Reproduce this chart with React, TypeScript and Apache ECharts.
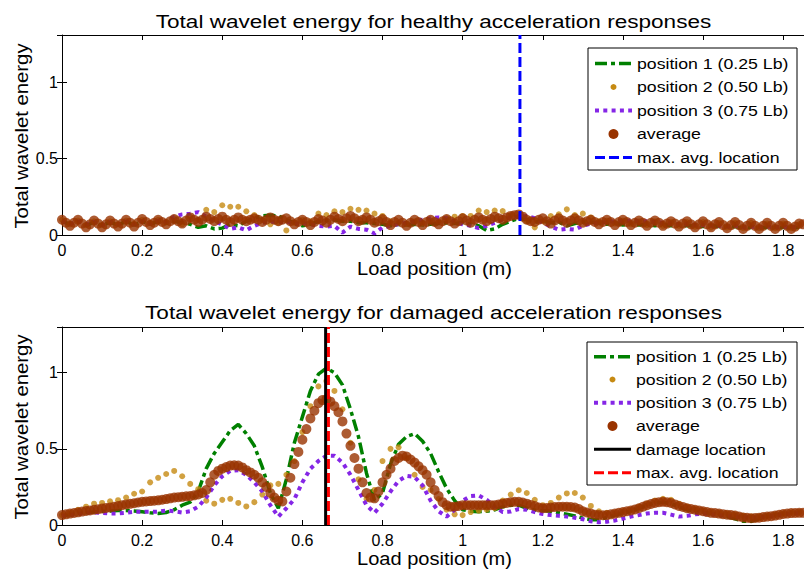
import { useEffect, useRef } from "react";
import * as echarts from "echarts";

// Load positions (m) for the three sensor positions
const xs = [
  0, 0.02, 0.04, 0.06, 0.08, 0.1, 0.12, 0.14, 0.16, 0.18,
  0.2, 0.22, 0.24, 0.26, 0.28, 0.3, 0.32, 0.34, 0.36, 0.38,
  0.4, 0.42, 0.44, 0.46, 0.48, 0.5, 0.52, 0.54, 0.56, 0.58,
  0.6, 0.62, 0.64, 0.66, 0.68, 0.7, 0.72, 0.74, 0.76, 0.78,
  0.8, 0.82, 0.84, 0.86, 0.88, 0.9, 0.92, 0.94, 0.96, 0.98,
  1.0, 1.02, 1.04, 1.06, 1.08, 1.1, 1.12, 1.14, 1.16, 1.18,
  1.2, 1.22, 1.24, 1.26, 1.28, 1.3, 1.32, 1.34, 1.36, 1.38,
  1.4, 1.42, 1.44, 1.46, 1.48, 1.5, 1.52, 1.54, 1.56, 1.58,
  1.6, 1.62, 1.64, 1.66, 1.68, 1.7, 1.72, 1.74, 1.76, 1.78,
  1.8, 1.82, 1.84,
];

// Load positions (m) for the average curves (finer sampling)
const xsAvg = [
  0, 0.01, 0.02, 0.03, 0.04, 0.05, 0.06, 0.07, 0.08, 0.09,
  0.1, 0.11, 0.12, 0.13, 0.14, 0.15, 0.16, 0.17, 0.18, 0.19,
  0.2, 0.21, 0.22, 0.23, 0.24, 0.25, 0.26, 0.27, 0.28, 0.29,
  0.3, 0.31, 0.32, 0.33, 0.34, 0.35, 0.36, 0.37, 0.38, 0.39,
  0.4, 0.41, 0.42, 0.43, 0.44, 0.45, 0.46, 0.47, 0.48, 0.49,
  0.5, 0.51, 0.52, 0.53, 0.54, 0.55, 0.56, 0.57, 0.58, 0.59,
  0.6, 0.61, 0.62, 0.63, 0.64, 0.65, 0.66, 0.67, 0.68, 0.69,
  0.7, 0.71, 0.72, 0.73, 0.74, 0.75, 0.76, 0.77, 0.78, 0.79,
  0.8, 0.81, 0.82, 0.83, 0.84, 0.85, 0.86, 0.87, 0.88, 0.89,
  0.9, 0.91, 0.92, 0.93, 0.94, 0.95, 0.96, 0.97, 0.98, 0.99,
  1.0, 1.01, 1.02, 1.03, 1.04, 1.05, 1.06, 1.07, 1.08, 1.09,
  1.1, 1.11, 1.12, 1.13, 1.14, 1.15, 1.16, 1.17, 1.18, 1.19,
  1.2, 1.21, 1.22, 1.23, 1.24, 1.25, 1.26, 1.27, 1.28, 1.29,
  1.3, 1.31, 1.32, 1.33, 1.34, 1.35, 1.36, 1.37, 1.38, 1.39,
  1.4, 1.41, 1.42, 1.43, 1.44, 1.45, 1.46, 1.47, 1.48, 1.49,
  1.5, 1.51, 1.52, 1.53, 1.54, 1.55, 1.56, 1.57, 1.58, 1.59,
  1.6, 1.61, 1.62, 1.63, 1.64, 1.65, 1.66, 1.67, 1.68, 1.69,
  1.7, 1.71, 1.72, 1.73, 1.74, 1.75, 1.76, 1.77, 1.78, 1.79,
  1.8, 1.81, 1.82, 1.83, 1.84, 1.85,
];

// Healthy responses
const healthyPos1 = [
  0.09, 0.07, 0.09, 0.06, 0.085, 0.06, 0.085, 0.065, 0.09, 0.065,
  0.09, 0.07, 0.09, 0.075, 0.09, 0.08, 0.07, 0.05, 0.06, 0.04,
  0.045, 0.07, 0.06, 0.09, 0.11, 0.125, 0.13, 0.125, 0.1, 0.08,
  0.06, 0.07, 0.09, 0.095, 0.1, 0.09, 0.09, 0.08, 0.08, 0.075,
  0.07, 0.06, 0.07, 0.065, 0.07, 0.065, 0.07, 0.075, 0.08, 0.075,
  0.08, 0.07, 0.06, 0.03, 0.04, 0.07, 0.09, 0.11, 0.1, 0.085,
  0.09, 0.08, 0.085, 0.06, 0.075, 0.085, 0.085, 0.08, 0.07, 0.08,
  0.065, 0.075, 0.065, 0.07, 0.06, 0.07, 0.06, 0.065, 0.06, 0.06,
  0.055, 0.06, 0.055, 0.05, 0.055, 0.045, 0.05, 0.045, 0.05, 0.045,
  0.05, 0.045, 0.05,
];
const healthyPos2 = [
  0.1, 0.07, 0.095, 0.065, 0.09, 0.065, 0.09, 0.07, 0.095, 0.075,
  0.1, 0.08, 0.1, 0.085, 0.11, 0.07, 0.12, 0.1, 0.165, 0.15,
  0.195, 0.185, 0.185, 0.155, 0.13, 0.1, 0.07, 0.08, 0.03, 0.08,
  0.1, 0.09, 0.14, 0.13, 0.155, 0.15, 0.172, 0.165, 0.16, 0.14,
  0.125, 0.09, 0.08, 0.075, 0.09, 0.08, 0.095, 0.09, 0.11, 0.12,
  0.125, 0.125, 0.16, 0.15, 0.16, 0.157, 0.13, 0.12, 0.09, 0.05,
  0.09, 0.124, 0.135, 0.168, 0.13, 0.14, 0.115, 0.09, 0.095, 0.075,
  0.095, 0.07, 0.09, 0.065, 0.09, 0.06, 0.085, 0.06, 0.085, 0.055,
  0.085, 0.05, 0.08, 0.05, 0.08, 0.045, 0.08, 0.045, 0.075, 0.045,
  0.075, 0.045, 0.07,
];
const healthyPos3 = [
  0.09, 0.07, 0.09, 0.07, 0.085, 0.065, 0.085, 0.07, 0.09, 0.07,
  0.09, 0.075, 0.095, 0.085, 0.12, 0.135, 0.14, 0.15, 0.12, 0.09,
  0.07, 0.04, 0.05, 0.03, 0.06, 0.08, 0.09, 0.08, 0.09, 0.07,
  0.08, 0.07, 0.06, 0.055, 0.06, 0.015, 0.055, 0.04, 0.035, 0.01,
  0.05, 0.06, 0.07, 0.08, 0.09, 0.1, 0.11, 0.115, 0.11, 0.09,
  0.07, 0.06, 0.045, 0.06, 0.08, 0.1, 0.115, 0.12, 0.125, 0.11,
  0.08, 0.055, 0.035, 0.04, 0.035, 0.06, 0.075, 0.08, 0.085, 0.09,
  0.09, 0.095, 0.09, 0.09, 0.085, 0.08, 0.075, 0.07, 0.07, 0.065,
  0.065, 0.06, 0.06, 0.055, 0.06, 0.05, 0.055, 0.05, 0.055, 0.05,
  0.055, 0.05, 0.055,
];
const healthyAvg = [
  0.1, 0.08, 0.06, 0.08, 0.1, 0.075, 0.05, 0.07, 0.095, 0.075,
  0.05, 0.07, 0.095, 0.075, 0.055, 0.075, 0.1, 0.08, 0.055, 0.08,
  0.105, 0.085, 0.065, 0.08, 0.1, 0.085, 0.07, 0.09, 0.105, 0.09,
  0.075, 0.095, 0.115, 0.1, 0.085, 0.1, 0.12, 0.105, 0.09, 0.105,
  0.12, 0.1, 0.085, 0.1, 0.115, 0.1, 0.09, 0.1, 0.11, 0.1,
  0.085, 0.1, 0.115, 0.1, 0.09, 0.1, 0.11, 0.09, 0.07, 0.085,
  0.1, 0.085, 0.065, 0.085, 0.105, 0.095, 0.08, 0.1, 0.12, 0.105,
  0.09, 0.11, 0.125, 0.11, 0.09, 0.1, 0.115, 0.1, 0.08, 0.09,
  0.105, 0.085, 0.065, 0.085, 0.1, 0.08, 0.06, 0.08, 0.1, 0.085,
  0.065, 0.085, 0.1, 0.085, 0.07, 0.09, 0.105, 0.09, 0.075, 0.09,
  0.11, 0.095, 0.08, 0.1, 0.115, 0.1, 0.09, 0.105, 0.12, 0.11,
  0.1, 0.115, 0.125, 0.13, 0.135, 0.12, 0.1, 0.09, 0.085, 0.1,
  0.11, 0.09, 0.075, 0.095, 0.11, 0.095, 0.08, 0.095, 0.11, 0.095,
  0.08, 0.09, 0.1, 0.085, 0.07, 0.085, 0.1, 0.085, 0.065, 0.085,
  0.1, 0.085, 0.065, 0.08, 0.095, 0.08, 0.06, 0.08, 0.095, 0.08,
  0.06, 0.075, 0.09, 0.075, 0.055, 0.075, 0.09, 0.07, 0.05, 0.07,
  0.09, 0.07, 0.05, 0.07, 0.085, 0.065, 0.045, 0.065, 0.085, 0.065,
  0.04, 0.06, 0.08, 0.06, 0.04, 0.06, 0.08, 0.06, 0.04, 0.06,
  0.08, 0.06, 0.04, 0.055, 0.075, 0.07,
];

// Damaged responses
const damagedPos1 = [
  0.06, 0.068, 0.075, 0.08, 0.085, 0.09, 0.092, 0.095, 0.095, 0.092,
  0.087, 0.08, 0.076, 0.082, 0.1, 0.13, 0.15, 0.22, 0.37, 0.47,
  0.545, 0.62, 0.66, 0.6, 0.52, 0.38, 0.21, 0.11, 0.3, 0.54,
  0.71, 0.88, 0.99, 1.03, 1.0, 0.92, 0.76, 0.58, 0.34, 0.16,
  0.21, 0.4, 0.53, 0.58, 0.6, 0.55, 0.47, 0.35, 0.24, 0.16,
  0.1, 0.09, 0.087, 0.09, 0.1, 0.12, 0.13, 0.13, 0.11, 0.098,
  0.095, 0.09, 0.08, 0.07, 0.06, 0.045, 0.035, 0.035, 0.05, 0.065,
  0.08, 0.09, 0.11, 0.13, 0.145, 0.15, 0.14, 0.12, 0.1, 0.09,
  0.085, 0.075, 0.065, 0.055, 0.04, 0.025, 0.025, 0.04, 0.055, 0.065,
  0.075, 0.08, 0.08,
];
const damagedPos2 = [
  0.065, 0.08, 0.1, 0.12, 0.14, 0.145, 0.155, 0.163, 0.18, 0.205,
  0.22, 0.28, 0.31, 0.335, 0.355, 0.32, 0.27, 0.235, 0.16, 0.14,
  0.165, 0.172, 0.145, 0.122, 0.15, 0.2, 0.26, 0.27, 0.33, 0.42,
  0.61, 0.78, 0.91, 0.945, 0.88, 0.76, 0.54, 0.3, 0.17, 0.23,
  0.42, 0.5, 0.51, 0.44, 0.33, 0.25, 0.23, 0.17, 0.1, 0.07,
  0.065, 0.085, 0.095, 0.1, 0.11, 0.16, 0.2, 0.228, 0.21, 0.165,
  0.13, 0.145, 0.18, 0.207, 0.21, 0.18, 0.125, 0.09, 0.08, 0.08,
  0.09, 0.1, 0.12, 0.14, 0.16, 0.172, 0.165, 0.14, 0.12, 0.105,
  0.095, 0.085, 0.08, 0.075, 0.068, 0.06, 0.055, 0.055, 0.06, 0.068,
  0.076, 0.082, 0.085,
];
const damagedPos3 = [
  0.06, 0.065, 0.072, 0.082, 0.082, 0.08, 0.076, 0.076, 0.08, 0.087,
  0.087, 0.087, 0.087, 0.095, 0.09, 0.082, 0.09, 0.12, 0.18, 0.26,
  0.32, 0.355, 0.36, 0.33, 0.28, 0.22, 0.13, 0.055, 0.11, 0.17,
  0.28, 0.37, 0.42, 0.455, 0.455, 0.41, 0.33, 0.23, 0.13, 0.08,
  0.14, 0.22, 0.29, 0.322, 0.315, 0.26, 0.16, 0.09, 0.055, 0.1,
  0.16, 0.19, 0.195, 0.165, 0.12, 0.085, 0.088, 0.105, 0.1, 0.085,
  0.072, 0.065, 0.06, 0.055, 0.048, 0.038, 0.025, 0.018, 0.022, 0.03,
  0.042, 0.055, 0.065, 0.075, 0.08, 0.08, 0.068, 0.055, 0.06, 0.07,
  0.075, 0.07, 0.065, 0.06, 0.055, 0.05, 0.048, 0.05, 0.055, 0.06,
  0.07, 0.075, 0.078,
];
const damagedAvg = [
  0.065, 0.07, 0.075, 0.079, 0.083, 0.088, 0.092, 0.096, 0.1, 0.104,
  0.108, 0.112, 0.115, 0.12, 0.125, 0.13, 0.135, 0.139, 0.143, 0.148,
  0.152, 0.155, 0.157, 0.16, 0.162, 0.166, 0.17, 0.175, 0.18, 0.183,
  0.185, 0.188, 0.19, 0.195, 0.2, 0.21, 0.23, 0.28, 0.33, 0.355,
  0.37, 0.38, 0.39, 0.392, 0.39, 0.378, 0.36, 0.345, 0.33, 0.31,
  0.28, 0.25, 0.21, 0.18, 0.16, 0.155, 0.22, 0.31, 0.4, 0.48,
  0.56, 0.63, 0.7, 0.75, 0.8, 0.82, 0.825, 0.81, 0.78, 0.74,
  0.68, 0.6, 0.52, 0.44, 0.37, 0.28, 0.21, 0.18, 0.175, 0.22,
  0.28, 0.33, 0.37, 0.42, 0.44, 0.455, 0.45, 0.43, 0.41, 0.385,
  0.36, 0.33, 0.28, 0.23, 0.19, 0.15, 0.13, 0.12, 0.12, 0.125,
  0.13, 0.13, 0.13, 0.13, 0.13, 0.13, 0.13, 0.13, 0.13, 0.135,
  0.14, 0.145, 0.15, 0.152, 0.152, 0.148, 0.14, 0.132, 0.125, 0.115,
  0.11, 0.112, 0.115, 0.118, 0.12, 0.12, 0.12, 0.118, 0.115, 0.105,
  0.09, 0.082, 0.075, 0.068, 0.065, 0.064, 0.065, 0.07, 0.075, 0.08,
  0.085, 0.09, 0.095, 0.102, 0.11, 0.12, 0.13, 0.138, 0.145, 0.15,
  0.152, 0.15, 0.145, 0.135, 0.125, 0.118, 0.11, 0.105, 0.1, 0.095,
  0.09, 0.085, 0.08, 0.078, 0.075, 0.071, 0.068, 0.065, 0.062, 0.056,
  0.05, 0.047, 0.045, 0.046, 0.048, 0.052, 0.055, 0.058, 0.062, 0.067,
  0.072, 0.075, 0.078, 0.079, 0.08, 0.08,
];

// Vertical reference locations (m)
const healthyMaxAvgLocation = 1.143;
const damageLocation = 0.658;
const damagedMaxAvgLocation = 0.665;

const xTicks = ["0", "0.2", "0.4", "0.6", "0.8", "1", "1.2", "1.4", "1.6", "1.8"];
const yTicks = ["0", "0.5", "1"];
const titles = [
  "Total wavelet energy for healthy acceleration responses",
  "Total wavelet energy for damaged acceleration responses",
];
const xAxisName = "Load position (m)";
const yAxisName = "Total wavelet energy";
const legendHealthy = [
  "position 1 (0.25 Lb)",
  "position 2 (0.50 Lb)",
  "position 3 (0.75 Lb)",
  "average",
  "max. avg. location",
];
const legendDamaged = [
  "position 1 (0.25 Lb)",
  "position 2 (0.50 Lb)",
  "position 3 (0.75 Lb)",
  "average",
  "damage location",
  "max. avg. location",
];

const FONT = '"Liberation Sans", Arial, Helvetica, sans-serif';
const GREEN = "#008000";
const GOLD = "#c68a12";
const PURPLE = "#8526e6";
const BROWN = "#993300";
const XMAX = 1.852;
const YMAX = [1.31, 1.3];
const GREEN_DASH = [12, 4, 4, 4];
const PURPLE_DOT = [4, 4.3];
const DASH = [10, 4];

const pairs = (xv: number[], ys: number[]) => xv.map((x, i) => [x, ys[i]]);
const vline = (x: number, ymax: number) => [
  [x, 0],
  [x, ymax],
];

function buildOption() {
  const grids = [
    { left: 62, top: 35, width: 742, height: 200 },
    { left: 62, top: 327, width: 742, height: 198 },
  ];
  const xAxis: any[] = [];
  const yAxis: any[] = [];
  grids.forEach((_, g) => {
    const common = {
      type: "value",
      gridIndex: g,
      min: 0,
      max: XMAX,
      interval: 0.2,
      splitLine: { show: false },
      axisLine: { show: true, onZero: false, lineStyle: { color: "#000", width: 1 } },
      axisTick: { show: true, inside: true, length: 5, lineStyle: { color: "#000", width: 1 } },
    };
    xAxis.push({
      ...common,
      position: "bottom",
      axisLabel: {
        show: true,
        color: "#000",
        fontFamily: FONT,
        fontSize: 16,
        margin: 7,
        showMaxLabel: false,
        formatter: (v: number) => {
          const s = String(Math.round(v * 10) / 10);
          return xTicks.includes(s) ? s : "";
        },
      },
    });
    xAxis.push({ ...common, position: "top", axisLabel: { show: false } });
    const ycommon = {
      type: "value",
      gridIndex: g,
      min: 0,
      max: YMAX[g],
      interval: 0.5,
      splitLine: { show: false },
      axisTick: { show: true, inside: true, length: 5, lineStyle: { color: "#000", width: 1 } },
    };
    yAxis.push({
      ...ycommon,
      position: "left",
      axisLine: { show: true, onZero: false, lineStyle: { color: "#000", width: 1 } },
      axisLabel: {
        show: true,
        color: "#000",
        fontFamily: FONT,
        fontSize: 16,
        margin: 4,
        showMaxLabel: false,
        formatter: (v: number) => {
          const s = String(Math.round(v * 10) / 10);
          return yTicks.includes(s) ? s : "";
        },
      },
    });
    yAxis.push({
      ...ycommon,
      position: "right",
      axisLine: { show: false },
      axisLabel: { show: false },
    });
  });

  const seriesFor = (g: number, p1: number[], p2: number[], p3: number[], avg: number[]) => {
    const xi = g * 2;
    const yi = g * 2;
    return [
      {
        type: "line",
        xAxisIndex: xi,
        yAxisIndex: yi,
        data: pairs(xs, p1),
        symbol: "none",
        lineStyle: { color: GREEN, width: 3.5, type: GREEN_DASH },
        z: 2,
      },
      {
        type: "scatter",
        xAxisIndex: xi,
        yAxisIndex: yi,
        data: pairs(xs, p2),
        symbol: "circle",
        symbolSize: 6,
        itemStyle: { color: GOLD },
        z: 3,
      },
      {
        type: "line",
        xAxisIndex: xi,
        yAxisIndex: yi,
        data: pairs(xs, p3),
        symbol: "none",
        lineStyle: { color: PURPLE, width: 4, type: PURPLE_DOT, cap: "butt" },
        z: 4,
      },
      {
        type: "scatter",
        xAxisIndex: xi,
        yAxisIndex: yi,
        data: pairs(xsAvg, avg),
        symbol: "circle",
        symbolSize: 10,
        itemStyle: { color: BROWN },
        z: 5,
      },
    ];
  };

  const series: any[] = [
    ...seriesFor(0, healthyPos1, healthyPos2, healthyPos3, healthyAvg),
    {
      type: "line",
      xAxisIndex: 0,
      yAxisIndex: 0,
      data: vline(healthyMaxAvgLocation, YMAX[0]),
      symbol: "none",
      lineStyle: { color: "#0000ff", width: 3, type: DASH },
      z: 6,
    },
    ...seriesFor(1, damagedPos1, damagedPos2, damagedPos3, damagedAvg),
    {
      type: "line",
      xAxisIndex: 2,
      yAxisIndex: 2,
      data: vline(damageLocation, YMAX[1]),
      symbol: "none",
      lineStyle: { color: "#000000", width: 3 },
      z: 6,
    },
    {
      type: "line",
      xAxisIndex: 2,
      yAxisIndex: 2,
      data: vline(damagedMaxAvgLocation, YMAX[1]),
      symbol: "none",
      lineStyle: { color: "#ff0000", width: 3, type: DASH },
      z: 7,
    },
  ];

  const legendBox = (x: number, y: number, w: number, h: number, rows: number[], labels: string[], kinds: string[]) => {
    const children: any[] = [
      { type: "rect", shape: { x, y, width: w, height: h }, style: { fill: "#fff", stroke: "#000", lineWidth: 1 } },
    ];
    const sx1 = x + 7;
    const sx2 = x + 44;
    const cx = (sx1 + sx2) / 2;
    kinds.forEach((k, i) => {
      const ry = rows[i];
      if (k === "p1")
        children.push({ type: "line", shape: { x1: sx1, y1: ry, x2: sx2, y2: ry }, style: { stroke: GREEN, lineWidth: 3.5, lineDash: GREEN_DASH } });
      if (k === "p2") children.push({ type: "circle", shape: { cx, cy: ry, r: 3 }, style: { fill: GOLD } });
      if (k === "p3")
        children.push({ type: "line", shape: { x1: sx1, y1: ry, x2: sx2, y2: ry }, style: { stroke: PURPLE, lineWidth: 4, lineDash: PURPLE_DOT } });
      if (k === "avg") children.push({ type: "circle", shape: { cx, cy: ry, r: 5 }, style: { fill: BROWN } });
      if (k === "blue")
        children.push({ type: "line", shape: { x1: sx1, y1: ry, x2: sx2, y2: ry }, style: { stroke: "#0000ff", lineWidth: 3, lineDash: DASH } });
      if (k === "black")
        children.push({ type: "line", shape: { x1: sx1, y1: ry, x2: sx2, y2: ry }, style: { stroke: "#000", lineWidth: 3 } });
      if (k === "red")
        children.push({ type: "line", shape: { x1: sx1, y1: ry, x2: sx2, y2: ry }, style: { stroke: "#ff0000", lineWidth: 3, lineDash: DASH } });
      children.push({
        type: "text",
        x: x + 49,
        y: ry,
        scaleX: 1.18,
        style: { text: labels[i], fill: "#000", font: `15px ${FONT}`, textAlign: "left", textVerticalAlign: "middle" },
      });
    });
    return { type: "group", children, z: 100 };
  };

  const textEl = (text: string, x: number, y: number, size: number, sx: number, rotation = 0) => ({
    type: "text",
    x,
    y,
    rotation,
    scaleX: sx,
    z: 100,
    style: { text, fill: "#000", font: `${size}px ${FONT}`, textAlign: "center", textVerticalAlign: "middle" },
  });

  const graphic = [
    textEl(titles[0], 433.5, 21.5, 18.5, 1.22),
    textEl(titles[1], 433.5, 312, 18.5, 1.22),
    textEl(xAxisName, 434.5, 268.5, 18.5, 1.085),
    textEl(xAxisName, 434.5, 559, 18.5, 1.085),
    textEl(yAxisName, 21, 136, 19, 1.07, Math.PI / 2),
    textEl(yAxisName, 21, 427, 19, 1.07, Math.PI / 2),
    legendBox(588, 48, 209, 122, [63.5, 87, 110.5, 134, 157.5], legendHealthy, ["p1", "p2", "p3", "avg", "blue"]),
    legendBox(587, 342, 210, 143, [356.7, 379.5, 402.7, 426, 449.3, 472.7], legendDamaged, ["p1", "p2", "p3", "avg", "black", "red"]),
  ];

  return {
    animation: false,
    backgroundColor: "#ffffff",
    grid: grids,
    xAxis,
    yAxis,
    series,
    graphic,
  };
}

export default function App() {
  const ref = useRef<HTMLDivElement>(null);
  useEffect(() => {
    if (!ref.current) return;
    const chart = echarts.init(ref.current, null, { renderer: "svg" });
    chart.setOption(buildOption() as any);
    return () => chart.dispose();
  }, []);
  return (
    <div
      ref={ref}
      style={{ position: "absolute", left: 0, top: 0, width: 804, height: 572, background: "#fff" }}
    />
  );
}
